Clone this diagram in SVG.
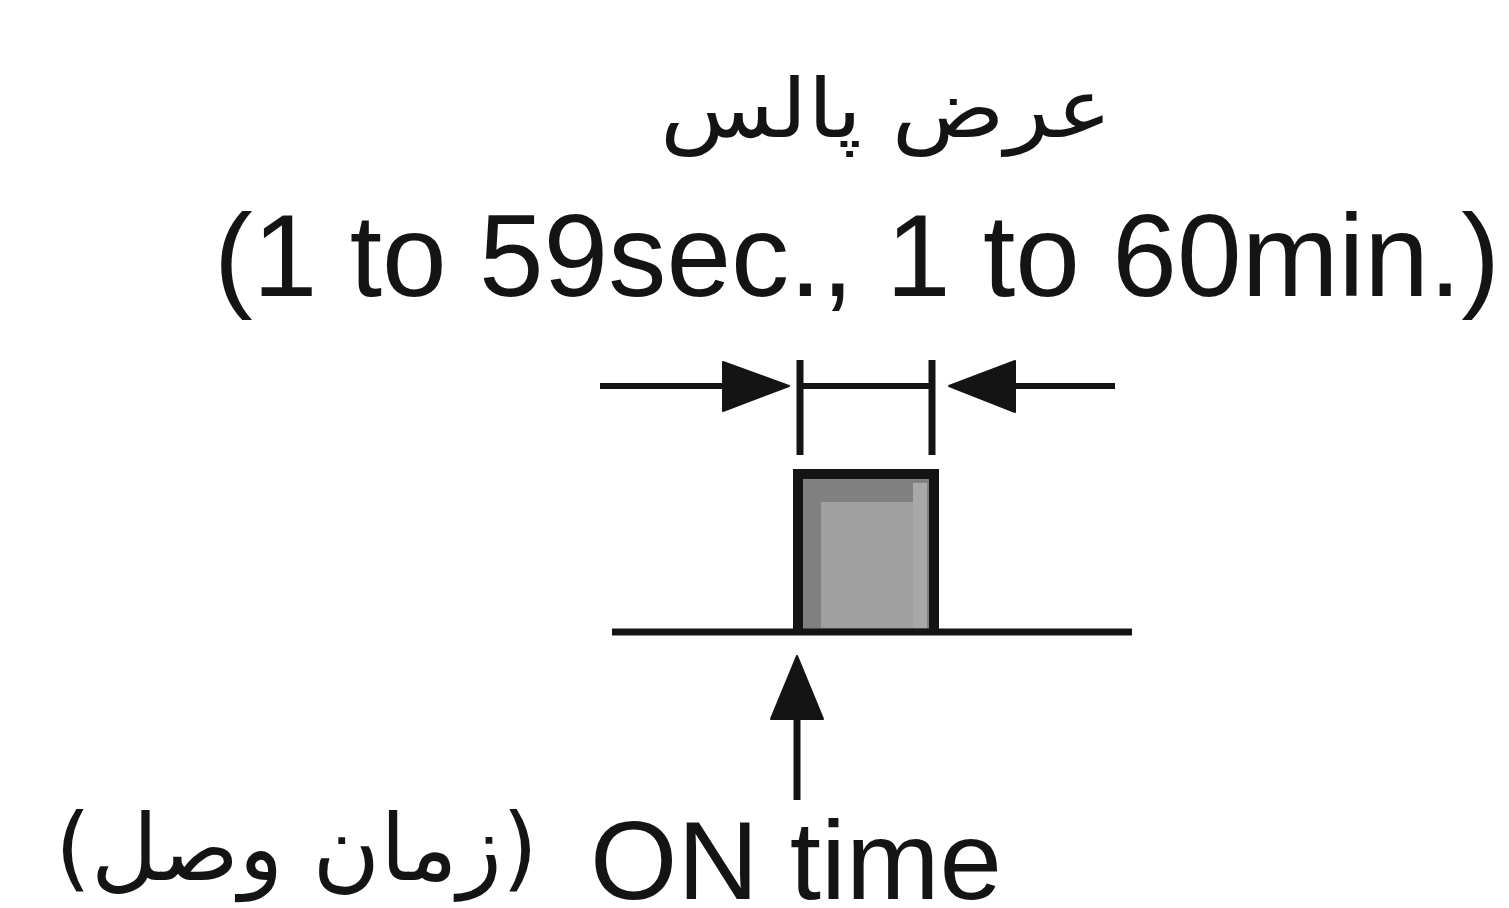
<svg xmlns="http://www.w3.org/2000/svg" width="1509" height="908" viewBox="0 0 1509 908">
<style>
.ln{stroke:#141414;fill:none;stroke-linecap:butt}
.ah{fill:#141414;stroke:#141414;stroke-width:2;stroke-linejoin:round}
.lat{font-family:"Liberation Sans",Arial,sans-serif;fill:#141414}
.ar{font-family:"DejaVu Sans","Noto Sans",sans-serif;fill:#141414}
</style>
<rect width="1509" height="908" fill="#fff"/>
<g id="title">
<text class="ar" x="660" y="137" font-size="82" textLength="452" lengthAdjust="spacingAndGlyphs">عرض پالس</text>
</g>
<g id="range">
<text class="lat" x="214" y="296" font-size="116" textLength="1286" lengthAdjust="spacingAndGlyphs">(1 to 59sec., 1 to 60min.)</text>
</g>
<g id="pulse">
<rect x="798" y="473" width="135" height="159" fill="#808080"/>
<rect x="821" y="502" width="92" height="126" fill="#a0a0a0"/>
<rect x="913" y="483" width="14" height="145" fill="#a8a8a8"/>
<polyline class="ln" stroke-width="10" points="798,632 798,474 934,474 934,632"/>
</g>
<g id="connectors">
<line class="ln" stroke-width="7" x1="612" y1="632" x2="1132" y2="632"/>
<line class="ln" stroke-width="6" x1="600" y1="386" x2="730" y2="386"/>
<polygon class="ah" points="723,362 789,386 723,411"/>
<line class="ln" stroke-width="7" x1="800" y1="360" x2="800" y2="455"/>
<line class="ln" stroke-width="7" x1="932" y1="360" x2="932" y2="455"/>
<line class="ln" stroke-width="6" x1="800" y1="386" x2="932" y2="386"/>
<line class="ln" stroke-width="6" x1="1008" y1="386" x2="1115" y2="386"/>
<polygon class="ah" points="1015,361 949,386 1015,412"/>
<line class="ln" stroke-width="7" x1="797" y1="712" x2="797" y2="800"/>
<polygon class="ah" points="797,656 823,719 771,719"/>
</g>
<g id="label">
<text class="ar" x="55" y="880" font-size="92" textLength="483" lengthAdjust="spacingAndGlyphs">(زمان وصل)</text>
<text class="lat" x="590" y="899" font-size="112" textLength="412" lengthAdjust="spacingAndGlyphs">ON time</text>
</g>
</svg>
